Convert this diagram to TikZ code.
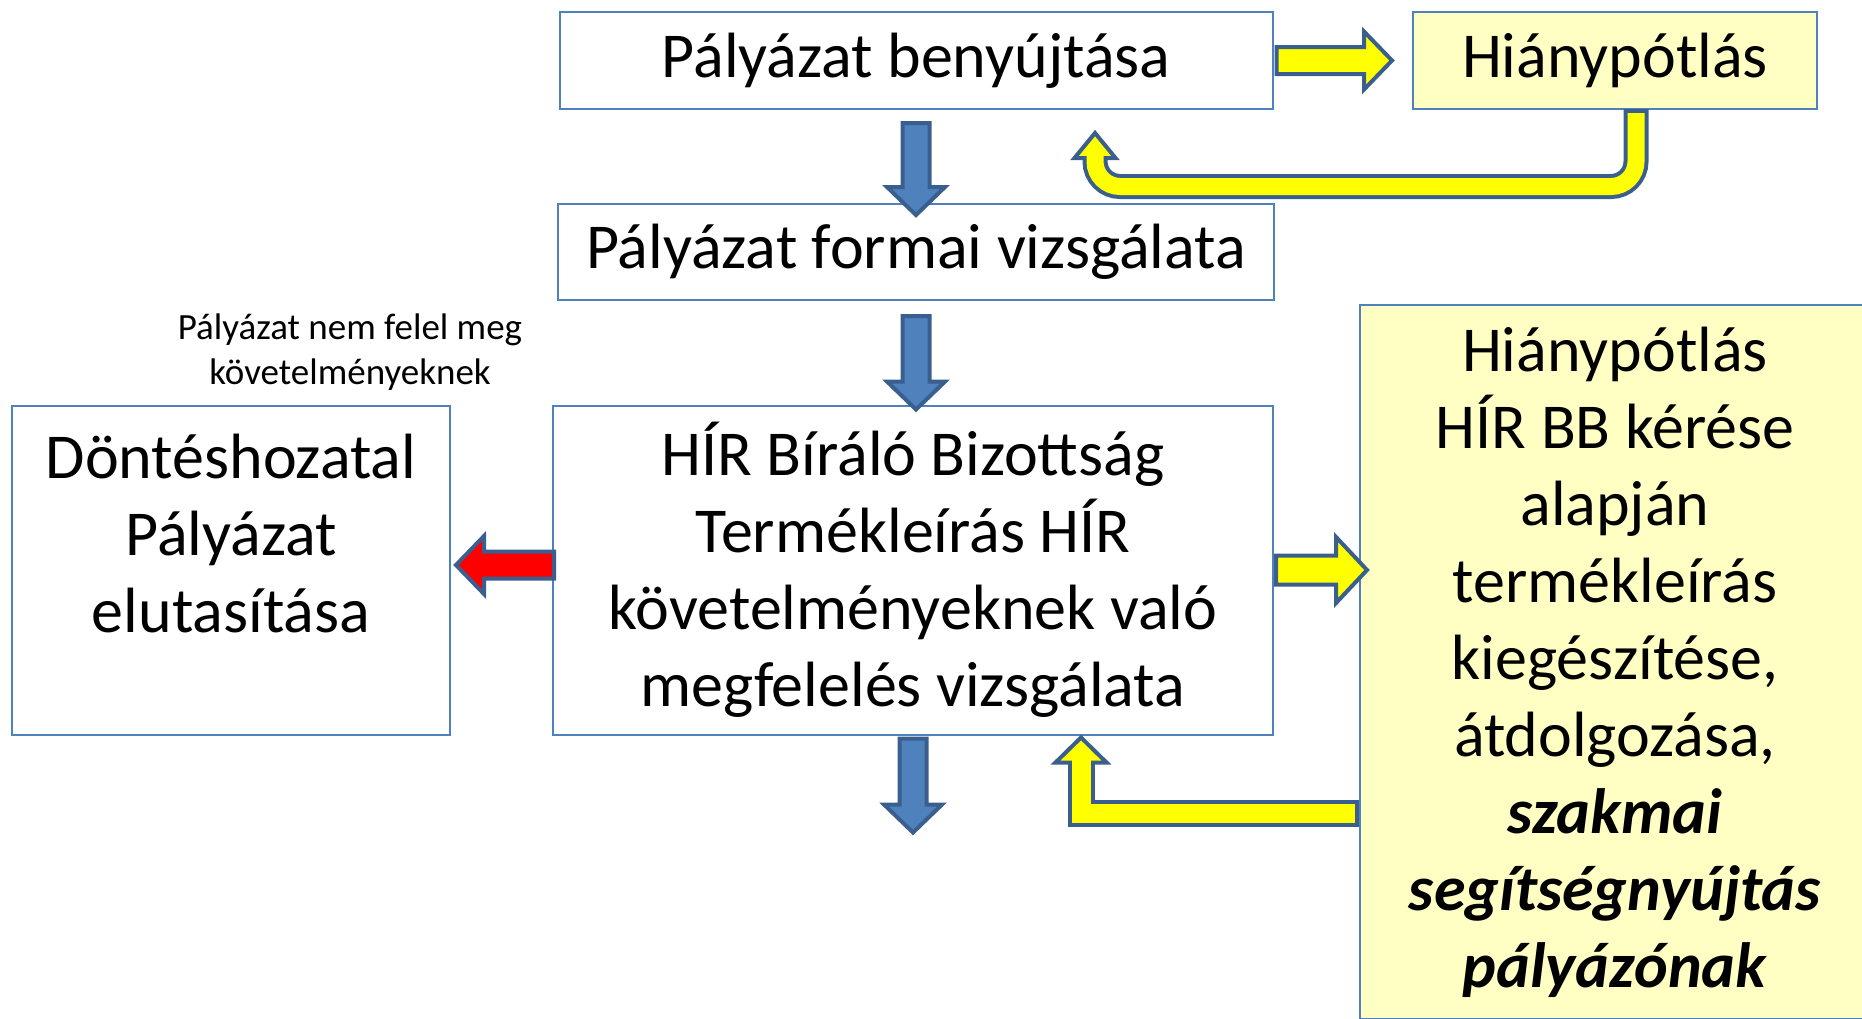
\documentclass[tikz,border=0pt]{standalone}
\usepackage{fontspec}
\setmainfont{Carlito}
\usetikzlibrary{calc}
\definecolor{boxblue}{HTML}{4F81BD}
\definecolor{arrowline}{HTML}{3A5F8E}
\definecolor{arrowblue}{HTML}{4F81BD}
\definecolor{hpyellow}{HTML}{FFFFC4}
\definecolor{arrowyellow}{HTML}{FFFF00}
\definecolor{arrowred}{HTML}{FF0000}
\newcommand{\bigtext}{\fontsize{64}{77}\selectfont}
\newcommand{\smalltext}{\fontsize{37}{45}\selectfont}
\newcommand{\shaftw}{13.5pt}
\newcommand{\headw}{29pt}
\newcommand{\headl}{28pt}
\newcommand{\blockarrow}[3]{%
	\coordinate (as) at (#2);
	\coordinate (ae) at (#3);
	\coordinate (ah) at ($(ae)!\headl!(as)$);
	\draw[#1] ($(as)!\shaftw!90:(ae)$) -- ($(ah)!\shaftw!90:(ae)$) -- ($(ah)!\headw!90:(ae)$) -- (ae) -- ($(ah)!\headw!-90:(ae)$) -- ($(ah)!\shaftw!-90:(ae)$) -- ($(as)!\shaftw!-90:(ae)$) -- cycle;
}

\begin{document}
\begin{tikzpicture}[x=1pt,y=-1pt,
		box/.style={draw=boxblue,line width=2pt,fill=white,align=center,font=\bigtext,inner sep=0pt},
		hpbox/.style={box,fill=hpyellow},
		bluearrow/.style={fill=arrowblue,draw=arrowline,line width=4pt},
		yellowarrow/.style={bluearrow,fill=arrowyellow},
		redarrow/.style={bluearrow,fill=arrowred},
		bentout/.style={draw=arrowline,line width=#1},
		bentin/.style={draw=arrowyellow,line width=#1}]
		\useasboundingbox (0,0) rectangle (1862,1018);
		\clip (0,0) rectangle (1862,1018);
		\node[box,minimum width=713pt,minimum height=97pt] (sub) at (916,60.5) {Pályázat benyújtása};
		\node[hpbox,minimum width=404pt,minimum height=97pt] (hp1) at (1615,60.5) {Hiánypótlás};
		\node[box,minimum width=716pt,minimum height=96pt] (formai) at (916,252) {Pályázat formai vizsgálata};
		\node[box,minimum width=720pt,minimum height=329pt] (bb) at (913,570) {HÍR Bíráló Bizottság\\Termékleírás HÍR\\követelményeknek való\\megfelelés vizsgálata};
		\node[box,minimum width=438pt,minimum height=329pt] (dont) at (231,570) {};
		\node[font=\bigtext,align=center,inner sep=0pt] (donttxt) at ([yshift=36pt]dont.center) {Döntéshozatal\\Pályázat\\elutasítása};
		\node[font=\smalltext,align=center,inner sep=0pt] (nemfelel) at (350,352) {Pályázat nem felel meg\\követelményeknek};
		\node[hpbox,minimum width=510pt,minimum height=714pt] (hp2) at (1615,662) {Hiánypótlás\\HÍR BB kérése\\alapján\\termékleírás\\kiegészítése,\\átdolgozása,\\\textbf{\textit{szakmai}}\\\textbf{\textit{segítségnyújtás}}\\\textbf{\textit{pályázónak}}};

		\blockarrow{bluearrow}{[yshift=-13pt]sub.south}{[yshift=-12pt]formai.north}
		\coordinate (bbin) at (formai.south |- bb.north);
		\blockarrow{bluearrow}{[yshift=-15pt]formai.south}{[yshift=-5pt]bbin}
		\coordinate (bbout) at ([yshift=-97pt]bb.south);
		\blockarrow{bluearrow}{[yshift=-3pt]bb.south}{bbout}
		\blockarrow{redarrow}{[xshift=2pt,yshift=5pt]bb.west}{[xshift=5pt,yshift=5pt]dont.east}
		\blockarrow{yellowarrow}{[xshift=3pt]sub.east}{[xshift=-20pt]hp1.west}
		\coordinate (hpin) at (hp2.west |- bb.east);
		{\renewcommand{\shaftw}{14.5pt}\renewcommand{\headw}{33pt}\renewcommand{\headl}{31pt}
		\blockarrow{yellowarrow}{[xshift=2pt]bb.east}{[xshift=8pt]hpin}}

		\coordinate (u1) at ([xshift=21pt,yshift=-3pt]hp1.south);
		\coordinate (u2) at ([xshift=179pt,yshift=-23pt]sub.south);
		\coordinate (ub) at ($(u2)+(0,53.5)$);
		\draw[bentout=25pt,rounded corners=25pt] ([yshift=4pt]u1) |- (ub) -- ($(u2)+(0,25)$);
		\draw[yellowarrow] ($(u2)+(-20.5,25)$) -- (u2) -- ($(u2)+(20.5,25)$) -- cycle;
		\draw[bentin=17pt,rounded corners=25pt] (u1) |- (ub) -- ($(u2)+(0,18)$);

		\coordinate (l1) at ([yshift=-151.5pt]hp2.west);
		\coordinate (l2) at ([xshift=168pt,yshift=-2pt]bb.south);
		\draw[bentout=27pt] (l1) -| ($(l2)+(0,25)$);
		\draw[yellowarrow] ($(l2)+(-25.5,25)$) -- (l2) -- ($(l2)+(25.5,25)$) -- cycle;
		\draw[bentin=19pt] ([xshift=-4pt]l1) -| ($(l2)+(0,18)$);
	\end{tikzpicture}
\end{document}
